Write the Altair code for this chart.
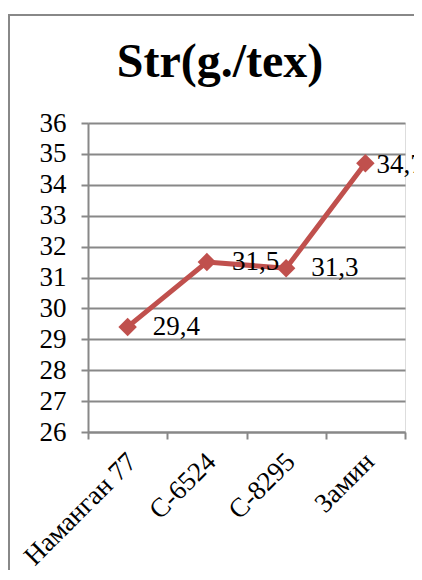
import altair as alt
import pandas as pd

categories = ["Наманган 77", "C-6524", "C-8295", "Замин"]
values = [29.4, 31.5, 31.3, 34.7]
labels = ["29,4", "31,5", "31,3", "34,7"]
title_text = "Str(g./tex)"
y_ticks = list(range(26, 37))

df = pd.DataFrame({"cat": categories, "val": values, "lab": labels})

RED = "#C0504D"
GRAY = "#888888"
FONT = "Liberation Serif, Times New Roman, serif"
W, H = 317, 309
PAD_R = 9
PAD_B = 138

x_enc = alt.X(
    "cat:N",
    sort=categories,
    scale=alt.Scale(paddingInner=0, paddingOuter=0),
    axis=alt.Axis(
        title=None,
        tickBand="extent",
        grid=False,
        domainColor=GRAY,
        domainWidth=2,
        tickColor=GRAY,
        tickWidth=2,
        tickSize=7,
        labelAngle=-45,
        labelAlign="right",
        labelBaseline="top",
        labelPadding=9,
        labelOffset=-5,
        labelFont=FONT,
        labelFontSize=27,
        labelColor="black",
        labelOverlap=False,
        labelLimit=300,
    ),
)
y_enc = alt.Y(
    "val:Q",
    scale=alt.Scale(domain=[26, 36], nice=False, zero=False),
    axis=alt.Axis(
        title=None,
        values=y_ticks,
        grid=True,
        gridColor=GRAY,
        gridWidth=2,
        domainColor=GRAY,
        domainWidth=2,
        tickColor=GRAY,
        tickWidth=2,
        tickSize=7,
        labelFont=FONT,
        labelFontSize=27,
        labelColor="black",
        labelPadding=15,
        labelOverlap=False,
    ),
)

base = alt.Chart(df).encode(x=x_enc, y=y_enc)
line = base.mark_line(color=RED, strokeWidth=5)
pts = base.mark_point(shape="diamond", filled=True, opacity=1, size=340, color=RED)
txt_main = base.transform_filter(alt.datum.cat != categories[-1]).mark_text(
    align="left", baseline="middle", dx=25, font=FONT, fontSize=27, color="black"
).encode(text="lab:N")
txt_last = base.transform_filter(alt.datum.cat == categories[-1]).mark_text(
    align="left", baseline="middle", dx=11, dy=2, font=FONT, fontSize=27, color="black"
).encode(text="lab:N")

title_df = pd.DataFrame({"t": [title_text]})
title = alt.Chart(title_df).mark_text(
    align="center", baseline="alphabetic", font=FONT, fontSize=48, fontWeight="bold", color="black"
).encode(x=alt.value(132), y=alt.value(-46), text="t:N")

frame_df = pd.DataFrame({"k": [1]})
frame_v = alt.Chart(frame_df).mark_rule(color=GRAY, strokeWidth=2).encode(
    x=alt.value(-79), y=alt.value(-109), y2=alt.value(H + PAD_B + 5)
)
frame_h = alt.Chart(frame_df).mark_rule(color=GRAY, strokeWidth=2).encode(
    x=alt.value(-79), x2=alt.value(W + PAD_R + 2), y=alt.value(-108)
)

chart = (
    alt.layer(line, pts, txt_main, txt_last, frame_v, frame_h, title)
    .properties(
        width=W,
        height=H,
        autosize=alt.AutoSizeParams(type="none"),
        padding={"left": 80, "top": 115, "right": PAD_R, "bottom": PAD_B},
    )
    .configure_view(stroke=None)
    .configure(background="white")
)

chart.save("out.html", embed_options={"renderer": "svg", "actions": False})
